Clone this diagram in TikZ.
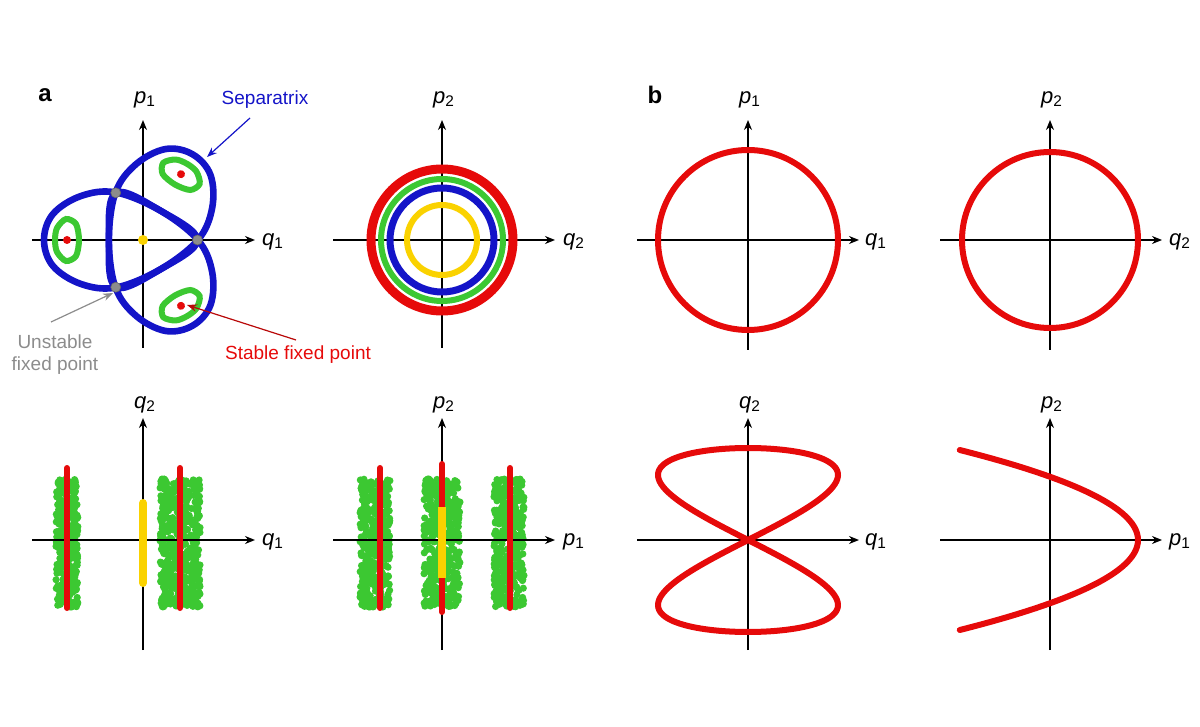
\documentclass[tikz,border=0pt]{standalone}
\usepackage{fontspec}
\setmainfont{Liberation Sans}
\usetikzlibrary{arrows.meta}
\definecolor{sepblue}{RGB}{20,20,200}
\definecolor{mygreen}{RGB}{60,200,50}
\definecolor{myred}{RGB}{230,10,10}
\definecolor{myyellow}{RGB}{250,210,0}
\definecolor{mygrey}{RGB}{140,140,140}
\begin{document}
\begin{tikzpicture}[x=0.5pt,y=0.5pt,
  ax/.style={line width=0.8pt,-{Stealth[length=5pt,width=4pt]}},
  lab/.style={font=\fontsize{11}{12}\selectfont},
  ann/.style={font=\fontsize{9.5}{11}\selectfont},
  sep/.style={sepblue,line width=3.3pt},
  grn/.style={mygreen,line width=3pt}]
\useasboundingbox (0,0) rectangle (1200,-727);
% ---------- panel labels
\node[font=\fontsize{12}{14}\selectfont\bfseries] (la) at (45,-95) {a};
\node[font=\fontsize{12}{14}\selectfont\bfseries] (lb) at (655,-95) {b};
% ---------- a1
\begin{scope}[shift={(143,-240)}]
  \coordinate (a1l) at (-111,0); \coordinate (a1r) at (112,0);
  \coordinate (a1b) at (0,-108); \coordinate (a1t) at (0,120);
  \draw[ax] (a1l) -- (a1r); \draw[ax] (a1b) -- (a1t);
  \node[lab] (a1p) at (2,140) {\textit{p}\textsubscript{1}};
  \node[lab] (a1q) at (130,-2) {\textit{q}\textsubscript{1}};
  \foreach \a in {0,120,240}{
    \begin{scope}[rotate=\a]
    \draw[sep] plot[smooth cycle,tension=0.6] coordinates {(54.5,0) (18,29) (-27,47.5) (-62,44) (-90,26) (-99,0) (-90,-26) (-62,-44) (-27,-47.5) (18,-29)};
    \draw[grn] plot[smooth cycle] coordinates {(-64,0) (-67,16) (-77,21) (-86,12) (-88,0) (-86,-12) (-77,-21) (-67,-16)};
    \fill[myred] (-76,0) circle (4);
    \end{scope}
  }
  \foreach \a in {0,120,240}{\fill[mygrey,draw=black!60,line width=0.3pt] (\a:54.5) circle (5);}
  \fill[myyellow] (0,0) circle (5);
  \node[ann,text=sepblue] (sepl) at (122,140) {Separatrix};
  \coordinate (sept) at (64,83);
  \draw[sepblue,line width=0.6pt,-{Stealth[length=5pt]}] (107,122) -- (sept);
  \node[ann,text=mygrey,align=center] (unl) at (-88,-115) {Unstable\\fixed point};
  \coordinate (unt) at (-30,-53);
  \draw[mygrey,line width=0.6pt,-{Stealth[length=5pt]}] (-92,-82) -- (unt);
  \node[ann,text=myred] (stl) at (155,-115) {Stable fixed point};
  \coordinate (stt) at (44,-65);
  \draw[myred!80!black,line width=0.6pt,-{Stealth[length=5pt]}] (153,-100) -- (stt);
\end{scope}
% ---------- a2
\begin{scope}[shift={(442,-240)}]
  \coordinate (a2l) at (-109,0); \coordinate (a2r) at (113,0);
  \coordinate (a2b) at (0,-108); \coordinate (a2t) at (0,120);
  \draw[ax] (a2l) -- (a2r); \draw[ax] (a2b) -- (a2t);
  \node[lab] (a2p) at (2,140) {\textit{p}\textsubscript{2}};
  \node[lab] (a2q) at (132,-2) {\textit{q}\textsubscript{2}};
  \draw[myred,line width=4.5pt] (0,0) circle (71);
  \draw[mygreen,line width=3pt] (0,0) circle (61);
  \draw[sepblue,line width=3.5pt] (0,0) circle (52);
  \draw[myyellow,line width=3pt] (0,0) circle (35);
\end{scope}
% ---------- b1
\begin{scope}[shift={(748,-240)}]
  \coordinate (b1l) at (-111,0); \coordinate (b1r) at (111,0);
  \coordinate (b1b) at (0,-110); \coordinate (b1t) at (0,120);
  \draw[ax] (b1l) -- (b1r); \draw[ax] (b1b) -- (b1t);
  \node[lab] (b1p) at (2,140) {\textit{p}\textsubscript{1}};
  \node[lab] (b1q) at (128,-2) {\textit{q}\textsubscript{1}};
  \draw[myred,line width=3pt] (0,0) circle (90);
\end{scope}
% ---------- b2
\begin{scope}[shift={(1050,-240)}]
  \coordinate (b2l) at (-110,0); \coordinate (b2r) at (112,0);
  \coordinate (b2b) at (0,-110); \coordinate (b2t) at (0,120);
  \draw[ax] (b2l) -- (b2r); \draw[ax] (b2b) -- (b2t);
  \node[lab] (b2p) at (2,140) {\textit{p}\textsubscript{2}};
  \node[lab] (b2q) at (130,-2) {\textit{q}\textsubscript{2}};
  \draw[myred,line width=3pt] (0,0) circle (88);
\end{scope}
% ---------- a3
\pgfmathsetseed{12}
\begin{scope}[shift={(143,-540)}]
  \foreach \cx/\w/\n in {-76/11/300,37/20/500}{
    \foreach \i in {1,...,\n}{\fill[mygreen] ({\cx+\w*rand},{-3+64*rand}) circle (3.6);}
  }
  \coordinate (a3l) at (-111,0); \coordinate (a3r) at (112,0);
  \coordinate (a3b) at (0,-110); \coordinate (a3t) at (0,122);
  \draw[ax] (a3l) -- (a3r); \draw[ax] (a3b) -- (a3t);
  \node[lab] (a3p) at (2,135) {\textit{q}\textsubscript{2}};
  \node[lab] (a3q) at (130,-2) {\textit{q}\textsubscript{1}};
  \draw[myred,line width=3pt,line cap=round] (-76,-68) -- (-76,72);
  \draw[myred,line width=3pt,line cap=round] (37,-68) -- (37,72);
  \draw[myyellow,line width=4pt,line cap=round] (0,-43) -- (0,37);
\end{scope}
% ---------- a4
\begin{scope}[shift={(442,-540)}]
  \foreach \cx/\w in {-67/15,0/18,67/15}{
    \foreach \i in {1,...,380}{\fill[mygreen] ({\cx+\w*rand},{-3+64*rand}) circle (3.6);}
  }
  \coordinate (a4l) at (-109,0); \coordinate (a4r) at (113,0);
  \coordinate (a4b) at (0,-110); \coordinate (a4t) at (0,122);
  \draw[ax] (a4l) -- (a4r); \draw[ax] (a4b) -- (a4t);
  \node[lab] (a4p) at (2,135) {\textit{p}\textsubscript{2}};
  \node[lab] (a4q) at (132,-2) {\textit{p}\textsubscript{1}};
  \draw[myred,line width=3pt,line cap=round] (-62,-68) -- (-62,72);
  \draw[myred,line width=3pt,line cap=round] (68,-68) -- (68,72);
  \draw[myred,line width=3pt,line cap=round] (0,-72) -- (0,76);
  \draw[myyellow,line width=4pt] (0,-38) -- (0,33);
\end{scope}
% ---------- b3
\begin{scope}[shift={(748,-540)}]
  \coordinate (b3l) at (-111,0); \coordinate (b3r) at (111,0);
  \coordinate (b3b) at (0,-110); \coordinate (b3t) at (0,122);
  \draw[ax] (b3l) -- (b3r); \draw[ax] (b3b) -- (b3t);
  \node[lab] (b3p) at (2,135) {\textit{q}\textsubscript{2}};
  \node[lab] (b3q) at (128,-2) {\textit{q}\textsubscript{1}};
  \draw[myred,line width=3pt,domain=0:360,samples=200,smooth]
    plot ({90*sin(2*\x)},{92*cos(\x)});
\end{scope}
% ---------- b4
\begin{scope}[shift={(1050,-540)}]
  \coordinate (b4l) at (-110,0); \coordinate (b4r) at (112,0);
  \coordinate (b4b) at (0,-110); \coordinate (b4t) at (0,122);
  \draw[ax] (b4l) -- (b4r); \draw[ax] (b4b) -- (b4t);
  \node[lab] (b4p) at (2,135) {\textit{p}\textsubscript{2}};
  \node[lab] (b4q) at (130,-2) {\textit{p}\textsubscript{1}};
  \draw[myred,line width=3pt,domain=-90:90,samples=80,smooth,line cap=round]
    plot ({88-0.022*\x*\x},{\x});
\end{scope}
\end{tikzpicture}
\end{document}
